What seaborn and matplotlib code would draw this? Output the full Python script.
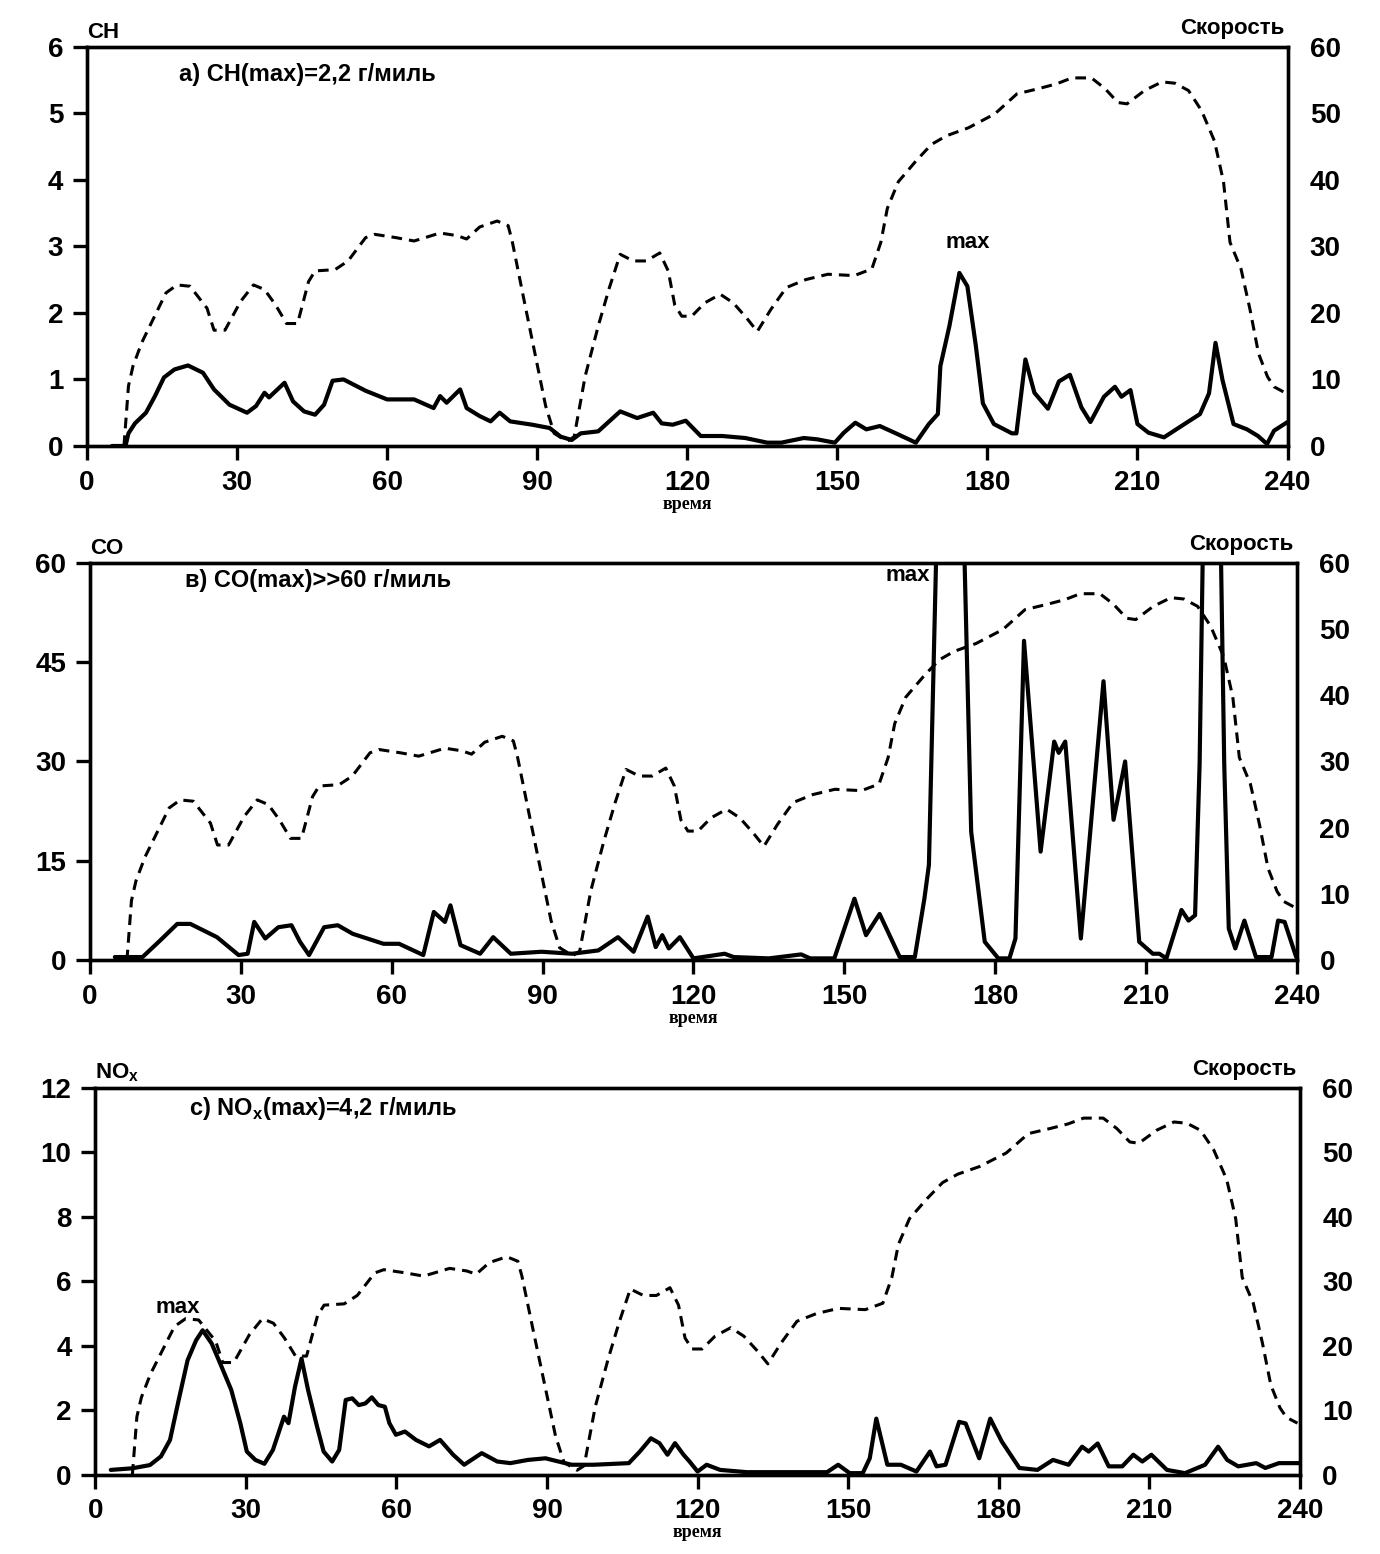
import numpy as np
import pandas as pd
import seaborn as sns
import matplotlib.pyplot as plt

sns.set_style("ticks")
plt.rcParams['font.family'] = ['Liberation Sans', 'DejaVu Sans']
plt.rcParams['mathtext.fontset'] = 'custom'
plt.rcParams['mathtext.rm'] = 'Liberation Sans:bold'
plt.rcParams['mathtext.bf'] = 'Liberation Sans:bold'
for k in ['text.color', 'axes.labelcolor', 'xtick.color', 'ytick.color', 'axes.edgecolor']:
    plt.rcParams[k] = 'black'

# speed (same drive cycle on all three panels)
speed_t = [7.4, 8.3, 9.2, 11, 13.2, 15.8, 18, 20.6, 24, 25.4,
           27.6, 30.7, 33.3, 35.5, 37.7, 39.9, 42.1, 44.3, 45.6, 49.6,
           52.2, 55.7, 57.5, 61.8, 65.4, 70.6, 74, 75.9, 78.5, 82,
           84.2, 85, 87.3, 89.5, 91.7, 93.4, 96, 97.4, 99.6, 102.2,
           104.4, 106.6, 109.2, 111.8, 114.5, 116.2, 117.5, 118.9, 120.9, 123.5,
           126.6, 129.2, 131.9, 134, 136.7, 139.8, 143.7, 148.1, 153.4, 156.9,
           158.7, 160, 162.2, 165.7, 168.8, 171.8, 176.2, 181.5, 185.9, 190.3,
           193.8, 196.9, 200.8, 203.5, 206.1, 207.9, 211.4, 214.9, 217.5, 220.2,
           222.8, 225.4, 227.2, 228.5, 230.7, 232.5, 234.2, 236, 237.3, 239.5]
speed_v = [0, 9, 12, 15.6, 19, 23, 24.2, 24, 20.7, 17.4,
           17.4, 21.7, 24.2, 23.5, 21.2, 18.4, 18.4, 24.7, 26.3, 26.5,
           27.8, 31.3, 31.8, 31.3, 30.8, 32, 31.6, 31.1, 32.9, 33.8,
           33.1, 30.8, 22.2, 14.1, 6, 1.9, 0.7, 1.4, 10.5, 18,
           23.7, 28.8, 27.8, 27.8, 29, 26.3, 21.2, 19.5, 19.5, 21.5,
           22.8, 21.5, 19.2, 17.2, 20.5, 23.8, 25, 25.8, 25.6, 26.6,
           30.6, 35.7, 39.7, 42.8, 45.3, 46.6, 47.8, 49.9, 52.9, 53.7,
           54.4, 55.3, 55.3, 53.7, 51.6, 51.4, 53.4, 54.7, 54.5, 53.4,
           50.4, 45.8, 39.7, 30.6, 26.6, 20.5, 13.9, 10.4, 8.9, 8]

# CH
ch_t = [5, 7.7, 8.3, 9.6, 11.8, 13.6, 15.4, 17.5, 20.2, 23.2,
        25.4, 28.5, 32, 33.8, 35.5, 36.4, 39.5, 41.2, 43.4, 45.6,
        47.4, 49.1, 51.3, 55.7, 60, 65.4, 69.3, 70.6, 71.9, 74.6,
        75.9, 78.5, 80.7, 82.5, 84.6, 89, 92.5, 94.7, 96.9, 98.7,
        102.2, 106.6, 110, 113.2, 114.9, 117.1, 119.7, 122.7, 127, 131.6,
        136, 138.8, 143.3, 146, 149.5, 151.3, 153.6, 155.8, 158.5, 162,
        165.7, 168.3, 170.1, 170.6, 172.4, 174.4, 176, 177.7, 179.1, 181.3,
        184.9, 185.8, 187.6, 189.4, 192.1, 194.3, 196.5, 198.8, 200.6, 203.3,
        205.5, 206.8, 208.6, 210, 212.2, 215.3, 219.4, 222.5, 224.3, 225.6,
        227, 229.2, 231.9, 234.1, 235.9, 237.3, 240]
ch_v = [0, 0, 0.19, 0.34, 0.5, 0.75, 1.03, 1.15, 1.21, 1.1,
        0.85, 0.62, 0.5, 0.6, 0.8, 0.73, 0.95, 0.67, 0.52, 0.47,
        0.62, 0.98, 1.0, 0.83, 0.7, 0.7, 0.57, 0.75, 0.65, 0.85,
        0.57, 0.45, 0.37, 0.5, 0.37, 0.32, 0.27, 0.14, 0.09, 0.19,
        0.22, 0.52, 0.42, 0.5, 0.34, 0.32, 0.38, 0.15, 0.15, 0.12,
        0.05, 0.05, 0.12, 0.1, 0.05, 0.2, 0.35, 0.25, 0.3, 0.18,
        0.05, 0.33, 0.48, 1.2, 1.8, 2.6, 2.4, 1.5, 0.64, 0.33,
        0.19, 0.19, 1.3, 0.8, 0.56, 0.97, 1.07, 0.58, 0.36, 0.74,
        0.89, 0.74, 0.84, 0.33, 0.2, 0.13, 0.33, 0.48, 0.79, 1.55,
        0.99, 0.33, 0.25, 0.15, 0.03, 0.23, 0.36]

# CO (two peaks go far above 60)
co_t = [5, 10.5, 14, 17.4, 20, 25.3, 29.6, 31.4, 32.7, 34.9,
        37.5, 40.1, 41.8, 43.6, 46.6, 49.3, 52.3, 58.4, 61.5, 66.3,
        68.4, 70.6, 71.7, 73.7, 77.6, 80.2, 83.7, 89.8, 95.9, 101.1,
        105, 108.1, 110.9, 112.5, 113.8, 115.1, 117.3, 120, 126.2, 128,
        135, 141.4, 143.2, 148, 152, 154.3, 157, 161, 164, 165.9,
        166.8, 171, 175.2, 177.9, 180.6, 182.8, 184, 185.7, 189, 191.7,
        192.6, 193.9, 197, 201.5, 203.5, 205.8, 208.6, 211.3, 212.6, 214,
        217, 218.4, 219.7, 220.6, 223, 225.5, 226.4, 227.7, 229.5, 231.8,
        234.9, 236.2, 237.5, 239.8]
co_v = [0.5, 0.5, 3, 5.5, 5.5, 3.5, 0.8, 1, 5.8, 3.3,
        5, 5.3, 2.8, 0.8, 5, 5.3, 4, 2.5, 2.5, 0.8,
        7.3, 5.8, 8.3, 2.3, 1, 3.5, 1, 1.3, 1, 1.5,
        3.5, 1.3, 6.6, 2, 3.8, 1.8, 3.5, 0.3, 1, 0.5,
        0.3, 0.9, 0.3, 0.3, 9.3, 3.8, 7, 0.5, 0.5, 9.3,
        14.4, 150, 19.4, 2.8, 0.3, 0.3, 3.3, 48.2, 16.4, 33,
        31.3, 33, 3.3, 42.1, 21.2, 30, 2.8, 1, 1, 0.3,
        7.6, 6, 6.8, 29.5, 150, 29.5, 4.8, 1.8, 6, 0.5,
        0.5, 6, 5.8, 0.5]

# NOx
nox_t = [3.1, 7.4, 10.9, 13.1, 14.9, 16.6, 18.4, 20.1, 21.4, 23.2,
         24.9, 27.1, 28.9, 30.2, 31.9, 33.7, 35.4, 37.6, 38.5, 39.8,
         41.1, 42.4, 44.2, 45.5, 47.2, 48.6, 49.9, 51.2, 52.5, 53.8,
         55.1, 56.4, 57.7, 58.6, 59.9, 61.7, 63.9, 66.5, 68.7, 71.3,
         73.5, 77, 80.1, 82.7, 86.2, 89.7, 92.3, 94.9, 99.3, 106.3,
         108.5, 110.7, 112.4, 114, 115.5, 117.2, 118.4, 120, 121.8, 124.5,
         129.8, 143.2, 145.8, 148, 150.3, 152.9, 154.3, 155.6, 157.8, 160.5,
         163.6, 166.3, 167.6, 169.4, 172.1, 173.4, 176.1, 178.3, 180.6, 184.1,
         187.7, 190.8, 193.9, 196.6, 197.9, 199.7, 201.9, 204.6, 206.8, 208.6,
         210.4, 213.5, 217.1, 221.1, 223.7, 225.5, 227.7, 231.3, 233.1, 235.8, 239.8]
nox_v = [0.15, 0.2, 0.3, 0.57, 1.08, 2.3, 3.55, 4.17, 4.48, 4.07,
         3.45, 2.63, 1.6, 0.72, 0.46, 0.34, 0.77, 1.8, 1.6, 2.73,
         3.6, 2.63, 1.49, 0.72, 0.41, 0.77, 2.32, 2.37, 2.16, 2.21,
         2.4, 2.16, 2.11, 1.6, 1.24, 1.34, 1.08, 0.88, 1.08, 0.62,
         0.31, 0.67, 0.41, 0.36, 0.46, 0.51, 0.41, 0.31, 0.31, 0.36,
         0.72, 1.13, 0.98, 0.62, 0.98, 0.62, 0.41, 0.1, 0.31, 0.15,
         0.08, 0.08, 0.08, 0.31, 0.05, 0.05, 0.51, 1.74, 0.31, 0.31,
         0.1, 0.72, 0.26, 0.31, 1.64, 1.59, 0.51, 1.74, 1.03, 0.21,
         0.15, 0.46, 0.31, 0.87, 0.72, 0.97, 0.26, 0.26, 0.62, 0.41,
         0.62, 0.15, 0.05, 0.31, 0.87, 0.46, 0.26, 0.36, 0.21, 0.36, 0.36]

x_ticks = [0, 30, 60, 90, 120, 150, 180, 210, 240]
speed_ticks = [0, 10, 20, 30, 40, 50, 60]

panels = [
    dict(rect=[0.063, 0.713, 0.870, 0.257], t=ch_t, v=ch_v, ymax=6, yticks=[0, 1, 2, 3, 4, 5, 6],
         name='CH', title='a) CH(max)=2,2 г/миль', tpos=(0.077, 0.93),
         maxpos=(176, 3.05)),
    dict(rect=[0.065, 0.382, 0.875, 0.256], t=co_t, v=co_v, ymax=60, yticks=[0, 15, 30, 45, 60],
         name='CO', title='в) CO(max)>>60 г/миль', tpos=(0.079, 0.955),
         maxpos=(162.5, 58.0)),
    dict(rect=[0.069, 0.051, 0.873, 0.249], t=nox_t, v=nox_v, ymax=12, yticks=[0, 2, 4, 6, 8, 10, 12],
         name=r'NO$_\mathregular{x}$', title=r'c) NO$_\mathregular{x}$(max)=4,2 г/миль', tpos=(0.078, 0.946),
         maxpos=(16.5, 5.2)),
]

fig = plt.figure(figsize=(13.8, 15.54), dpi=100)

for p in panels:
    ax = fig.add_axes(p['rect'])
    sns.lineplot(x=p['t'], y=p['v'], ax=ax, color='black', lw=3.0,
                 sort=False, estimator=None)
    ax.set_xlim(0, 240)
    ax.set_ylim(0, p['ymax'])
    ax.set_xticks(x_ticks)
    ax.set_yticks(p['yticks'])
    ax.tick_params(axis='both', direction='out', length=10, width=2.4,
                   labelsize=20, pad=7)
    for lab in ax.get_xticklabels() + ax.get_yticklabels():
        lab.set_fontweight('bold')
    for s in ax.spines.values():
        s.set_linewidth(2.4)
    ax.set_xlabel('время', fontsize=13, fontweight='bold',
                  family=['Liberation Serif', 'DejaVu Serif'], labelpad=0)
    ax.set_ylabel('')

    ax2 = ax.twinx()
    sns.lineplot(x=speed_t, y=speed_v, ax=ax2, color='black', lw=2.2,
                 linestyle=(0, (3.5, 2.3)), sort=False, estimator=None)
    ax2.set_ylim(0, 60)
    ax2.set_yticks(speed_ticks)
    ax2.tick_params(axis='y', length=0, labelsize=20, pad=16)
    for lab in ax2.get_yticklabels():
        lab.set_fontweight('bold')
    for s in ax2.spines.values():
        s.set_linewidth(2.4)
    ax2.set_ylabel('')

    ax.text(0.0, 1.01, p['name'], transform=ax.transAxes, ha='left', va='bottom',
            fontsize=16, fontweight='bold')
    ax.text(0.997, 1.02, 'Скорость', transform=ax.transAxes, ha='right', va='bottom',
            fontsize=16, fontweight='bold')
    ax.text(p['tpos'][0], p['tpos'][1], p['title'], transform=ax.transAxes,
            ha='left', va='center', fontsize=17, fontweight='bold')
    ax.text(p['maxpos'][0], p['maxpos'][1], 'max', ha='center', va='center',
            fontsize=16, fontweight='bold')

fig.savefig('out.png', dpi=100)
